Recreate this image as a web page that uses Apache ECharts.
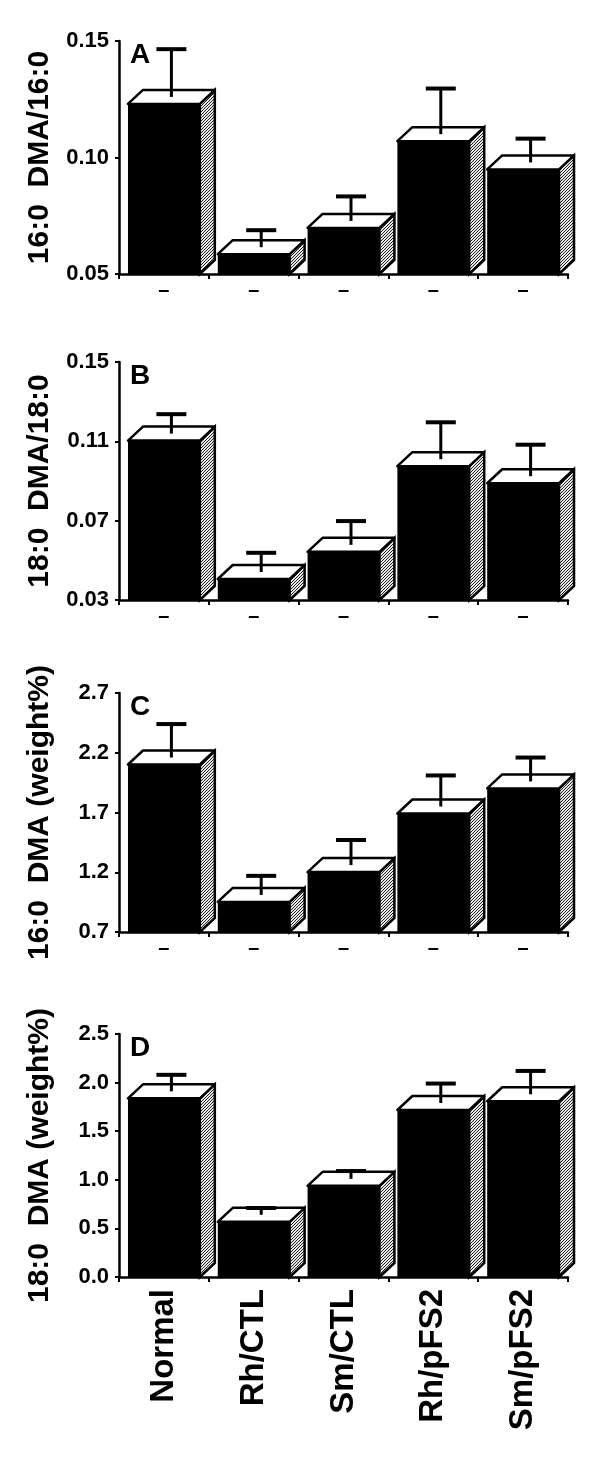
<!DOCTYPE html>
<html>
<head>
<meta charset="utf-8">
<script src="https://cdn.jsdelivr.net/npm/echarts@6/dist/echarts.min.js"></script>
<style>
  html, body { margin: 0; padding: 0; background: #fff; }
  #main { width: 600px; height: 1465px; }
</style>
</head>
<body>
<div id="main"></div>
<script>
var groups = ['Normal', 'Rh/CTL', 'Sm/CTL', 'Rh/pFS2', 'Sm/pFS2'];

// A: 16:0 DMA/16:0
var meanA = [0.126, 0.0615, 0.0728, 0.110, 0.0979];
var semA = [0.0205, 0.0073, 0.0105, 0.0196, 0.0102];
var ticksA = [0.05, 0.10, 0.15];

// B: 18:0 DMA/18:0
var meanB = [0.1139, 0.0441, 0.0578, 0.101, 0.0924];
var semB = [0.0098, 0.0097, 0.012, 0.0186, 0.0159];
var ticksB = [0.03, 0.07, 0.11, 0.15];

// C: 16:0 DMA (weight%)
var meanC = [2.16, 1.01, 1.26, 1.75, 1.96];
var semC = [0.28, 0.16, 0.21, 0.26, 0.20];
var ticksC = [0.7, 1.2, 1.7, 2.2, 2.7];

// D: 18:0 DMA (weight%)
var meanD = [1.91, 0.64, 1.01, 1.79, 1.88];
var semD = [0.17, 0.07, 0.08, 0.20, 0.24];
var ticksD = [0.0, 0.5, 1.0, 1.5, 2.0, 2.5];

var font = "'Liberation Sans', Arial, Helvetica, sans-serif";

var panels = [
  {letter: 'A', name: '16:0  DMA/16:0', mean: meanA, sem: semA, ticks: ticksA, dec: 2, top: 41, height: 233},
  {letter: 'B', name: '18:0  DMA/18:0', mean: meanB, sem: semB, ticks: ticksB, dec: 2, top: 362, height: 238},
  {letter: 'C', name: '16:0  DMA (weight%)', mean: meanC, sem: semC, ticks: ticksC, dec: 1, top: 693, height: 239},
  {letter: 'D', name: '18:0  DMA (weight%)', mean: meanD, sem: semD, ticks: ticksD, dec: 1, top: 1034, height: 243}
];

// stipple for the side faces
var dots = document.createElement('canvas');
dots.width = 3; dots.height = 3;
var ctx = dots.getContext('2d');
ctx.fillStyle = '#e8e8e8';
ctx.fillRect(0, 0, 3, 3);
ctx.fillStyle = '#222';
ctx.fillRect(0, 0, 1, 1);
ctx.fillRect(2, 1, 1, 1);
ctx.fillRect(1, 2, 1, 1);

var dx = 15, dy = 14;

function makeRender(yMin) {
  return function (params, api) {
    var cat = api.value(0), val = api.value(1), err = api.value(2);
    var p = api.coord([cat, val]);
    var base = api.coord([cat, yMin])[1];
    var e = api.coord([cat, val + err])[1];
    var band = api.size([1, 0])[0];
    var w = band * 0.8;
    var x0 = p[0] - w / 2, x1 = p[0] + w / 2;
    var ft = p[1] + dy / 2, bt = p[1] - dy / 2;
    var sx = p[0] + dx / 2;
    return {
      type: 'group',
      children: [
        {type: 'rect', shape: {x: x0, y: ft, width: w, height: base - ft}, style: {fill: '#000'}},
        {type: 'polygon', shape: {points: [[x1, ft], [x1 + dx, bt], [x1 + dx, base - dy], [x1, base]]},
          style: {fill: {image: dots, repeat: 'repeat'}, stroke: '#000', lineWidth: 2.5}},
        {type: 'polygon', shape: {points: [[x0, ft], [x1, ft], [x1 + dx, bt], [x0 + dx, bt]]},
          style: {fill: '#fff', stroke: '#000', lineWidth: 2.5, lineJoin: 'round'}},
        {type: 'line', shape: {x1: sx, y1: p[1], x2: sx, y2: e}, style: {stroke: '#000', lineWidth: 3}},
        {type: 'line', shape: {x1: sx - 15, y1: e, x2: sx + 15, y2: e}, style: {stroke: '#000', lineWidth: 4}}
      ]
    };
  };
}

var myChart = echarts.init(document.getElementById('main'));

var option = {
  backgroundColor: '#fff',
  animation: false,
  title: [],
  grid: [],
  xAxis: [],
  yAxis: [],
  series: []
};

panels.forEach(function (pn, i) {
  var last = i === panels.length - 1;
  option.title.push({
    text: pn.letter, left: 125, top: pn.top - 5,
    textStyle: {fontFamily: font, fontWeight: 'bold', fontSize: 28, color: '#000'}
  });
  option.grid.push({left: 119, width: 449, top: pn.top, height: pn.height});
  option.xAxis.push({
    type: 'category', gridIndex: i, data: groups,
    axisLine: {lineStyle: {color: '#000', width: 2.5}},
    axisTick: {show: true, alignWithLabel: false, length: 5, lineStyle: {color: '#000', width: 2}},
    axisLabel: last ? {
      interval: 0, rotate: 90, margin: 12, color: '#000',
      fontFamily: font, fontWeight: 'bold', fontSize: 33
    } : {
      interval: 0, margin: 6, color: '#000',
      fontFamily: font, fontWeight: 'bold', fontSize: 20,
      formatter: function () { return '\u2013'; }
    }
  });
  option.yAxis.push({
    type: 'value', gridIndex: i,
    min: pn.ticks[0], max: pn.ticks[pn.ticks.length - 1],
    name: pn.name, nameLocation: 'middle', nameGap: 64,
    nameTextStyle: {fontFamily: font, fontWeight: 'bold', fontSize: 30, color: '#000'},
    splitLine: {show: false},
    axisLine: {show: true, lineStyle: {color: '#000', width: 2.5}},
    axisTick: {show: true, length: 4, customValues: pn.ticks, lineStyle: {color: '#000', width: 2}},
    axisLabel: {
      customValues: pn.ticks, margin: 10, color: '#000',
      fontFamily: font, fontWeight: 'bold', fontSize: 22,
      formatter: function (v) { return v.toFixed(pn.dec); }
    }
  });
  option.series.push({
    type: 'custom', xAxisIndex: i, yAxisIndex: i,
    renderItem: makeRender(pn.ticks[0]),
    data: pn.mean.map(function (m, k) { return [k, m, pn.sem[k]]; })
  });
});

myChart.setOption(option);
</script>
</body>
</html>
